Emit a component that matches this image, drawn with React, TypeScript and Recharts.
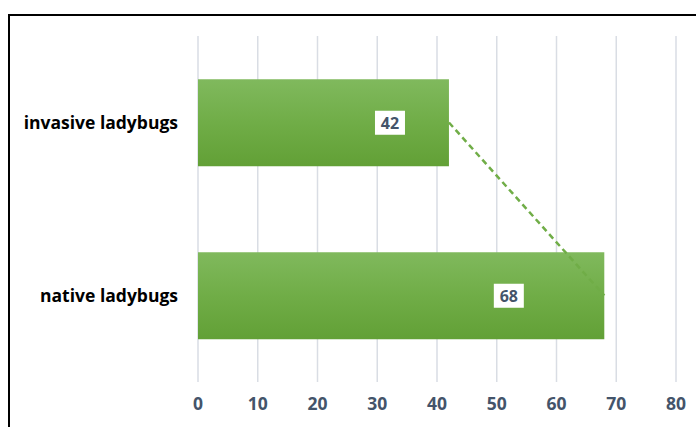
import { ComposedChart, Bar, Line, XAxis, YAxis, CartesianGrid, LabelList } from 'recharts';

const categories = ['invasive ladybugs', 'native ladybugs'];
const counts = [42, 68];
const xTicks = [0, 10, 20, 30, 40, 50, 60, 70, 80];

const data = categories.map((name, i) => ({ name, value: counts[i] }));

const GREEN = '#70AD47';
const TEXT = '#44546A';

const ValueLabel = (props: any) => {
  const { x, y, width, height, value } = props;
  const cx = x + width * 0.765;
  const cy = y + height / 2;
  return (
    <g>
      <rect x={cx - 15} y={cy - 12} width={30} height={24} fill="#fff" />
      <text x={cx} y={cy} textAnchor="middle" dominantBaseline="central" fill={TEXT} fontSize={16} fontWeight="bold" fontFamily="'Open Sans', sans-serif">
        {value}
      </text>
    </g>
  );
};

export default function App() {
  return (
    <div style={{ position: 'relative', width: 696, height: 427, overflow: 'hidden', background: '#fff' }}>
      <style>{`body{margin:0}`}</style>
      <div style={{ position: 'absolute', left: 8, top: 14, width: 720, height: 440, border: '2px solid #000' }} />
      <div style={{ position: 'absolute', left: 0, top: 0 }}>
        <ComposedChart
          width={696}
          height={427}
          data={data}
          layout="vertical"
          margin={{ top: 36, right: 20, bottom: 0, left: 0 }}
          barCategoryGap="25%"
        >
          <defs>
            <linearGradient id="barFill" x1="0" y1="0" x2="0" y2="1">
              <stop offset="0%" stopColor="#80B95D" />
              <stop offset="50%" stopColor="#70AD47" />
              <stop offset="100%" stopColor="#62A036" />
            </linearGradient>
          </defs>
          <CartesianGrid horizontal={false} stroke="#D9DDE4" strokeWidth={1.5} />
          <XAxis
            type="number"
            domain={[0, 80]}
            ticks={xTicks}
            axisLine={false}
            tickLine={false}
            tickSize={0}
            tickMargin={16}
            height={45}
            tick={{ fill: TEXT, fontSize: 17.5, fontWeight: 'bold', fontFamily: "'Open Sans', sans-serif" }}
          />
          <YAxis
            type="category"
            dataKey="name"
            width={198}
            axisLine={false}
            tickLine={false}
            tickSize={0}
            tickMargin={20}
            tick={{ fill: '#000', fontSize: 17.5, fontWeight: 'bold', fontFamily: "'Open Sans', sans-serif" }}
          />
          <Bar dataKey="value" fill="url(#barFill)" isAnimationActive={false}>
            <LabelList dataKey="value" content={ValueLabel} />
          </Bar>
          <Line
            dataKey="value"
            stroke={GREEN}
            strokeWidth={2.5}
            strokeDasharray="6 4"
            dot={false}
            activeDot={false}
            isAnimationActive={false}
          />
        </ComposedChart>
      </div>
    </div>
  );
}
